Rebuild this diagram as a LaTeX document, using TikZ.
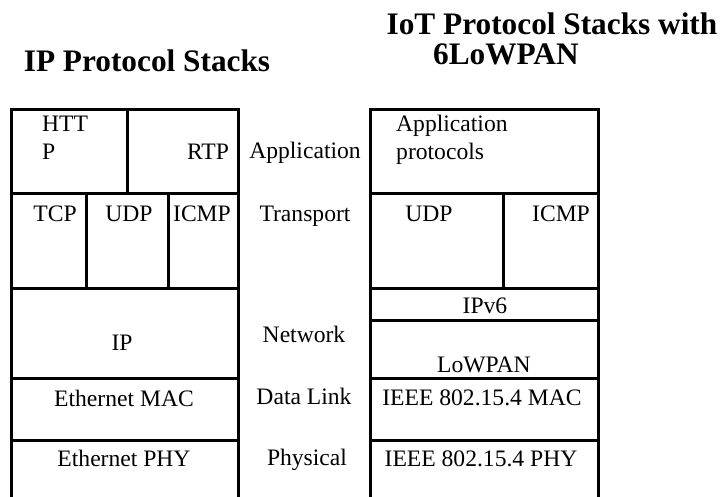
\documentclass[tikz,border=0pt]{standalone}
\usepackage{fontspec}
\setmainfont{Liberation Serif}
\tikzset{
  stackline/.style={line width=3pt},
  title/.style={font=\bfseries\fontsize{31.3}{30}\selectfont, inner sep=0pt},
  cell/.style={font=\fontsize{23.6}{28}\selectfont, inner sep=0pt, anchor=base},
  layer/.style={cell}
}
\begin{document}
\begin{tikzpicture}[x=1pt,y=-1pt]
                \useasboundingbox (0,0) rectangle (725,497);
                
                % Titles
                \node[title, anchor=base] (ipTitle) at (147,72) {IP Protocol Stacks};
                \node[title, anchor=base] (iotTitle) at (552,35) {IoT Protocol Stacks with};
                \node[title, anchor=base west] (iotTitleB) at (433,65) {6LoWPAN};
                
                % IP stack (left)
                \draw[stackline] (11,510) -- (11,110) -- (238,110) -- (238,510);
                \foreach \y in {194,288,378,440}
                    \draw[stackline] (11,\y) -- (238,\y);
                \draw[stackline] (127,110) -- (127,194);
                \draw[stackline] (86,194) -- (86,288);
                \draw[stackline] (168,194) -- (168,288);
                
                % IoT stack (right)
                \draw[stackline] (370,510) -- (370,110) -- (598,110) -- (598,510);
                \foreach \y in {194,288,320,378,440}
                    \draw[stackline] (370,\y) -- (598,\y);
                \draw[stackline] (503,194) -- (503,288);
                
                % Labels in the IP stack
                \node[cell, anchor=base west] (http) at (42,132) {HTT};
                \node[cell, anchor=base west] (httpB) at (42,160) {P};
                \node[cell] (rtp) at (208,160) {RTP};
                \node[cell] (tcp) at (55,222) {TCP};
                \node[cell] (udp) at (129,222) {UDP};
                \node[cell] (icmp) at (202,222) {ICMP};
                \node[cell] (ip) at (122,350) {IP};
                \node[cell] (ethMac) at (124,406) {Ethernet MAC};
                \node[cell] (ethPhy) at (124,466) {Ethernet PHY};
                
                % Layer names
                \node[layer] (application) at (305,159) {Application};
                \node[layer] (transport) at (305,222) {Transport};
                \node[layer] (network) at (304,342) {Network};
                \node[layer] (dataLink) at (304,404) {Data Link};
                \node[layer] (physical) at (307,465) {Physical};
                
                % Labels in the IoT stack
                \node[cell, anchor=base west] (appProto) at (396,132) {Application};
                \node[cell, anchor=base west] (appProtoB) at (396,160) {protocols};
                \node[cell] (udpIot) at (429,222) {UDP};
                \node[cell] (icmpIot) at (561,222) {ICMP};
                \node[cell] (ipv6) at (485,313) {IPv6};
                \node[cell] (lowpan) at (484,372) {LoWPAN};
                \node[cell] (wpanMac) at (482,405) {IEEE 802.15.4 MAC};
                \node[cell] (wpanPhy) at (481,466) {IEEE 802.15.4 PHY};
\end{tikzpicture}
\end{document}
